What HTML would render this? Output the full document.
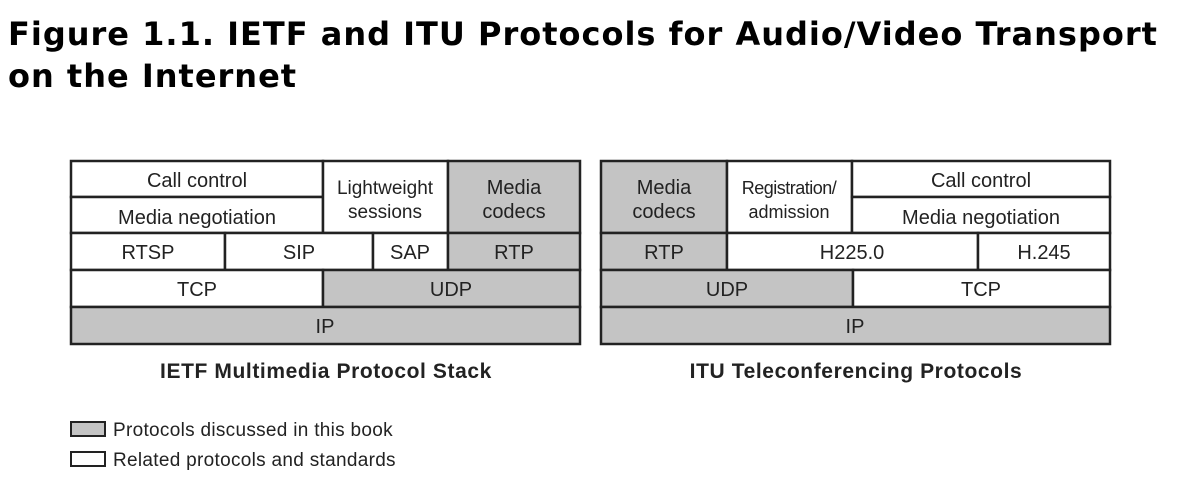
<!DOCTYPE html>
<html><head><style>
body{margin:0;background:#fff;width:1180px;height:479px;overflow:hidden}
.t{position:absolute;left:8px;top:13px;font:bold 32px "DejaVu Sans",sans-serif;letter-spacing:1px;line-height:42px;color:#000;margin:0;white-space:nowrap}
</style></head><body>
<div class="t">Figure 1.1. IETF and ITU Protocols for Audio/Video Transport<br>on the Internet</div>
<svg width="1180" height="479" style="position:absolute;left:0;top:0" font-family="Liberation Sans, sans-serif" font-size="20" text-anchor="middle" fill="#222">
<g stroke="#222" stroke-width="2.5">
<rect x="71" y="161" width="252" height="36" fill="#fff"/>
<rect x="71" y="197" width="252" height="36" fill="#fff"/>
<rect x="323" y="161" width="125" height="72" fill="#fff"/>
<rect x="448" y="161" width="132" height="72" fill="#c4c4c4"/>
<rect x="71" y="233" width="154" height="37" fill="#fff"/>
<rect x="225" y="233" width="148" height="37" fill="#fff"/>
<rect x="373" y="233" width="75" height="37" fill="#fff"/>
<rect x="448" y="233" width="132" height="37" fill="#c4c4c4"/>
<rect x="71" y="270" width="252" height="37" fill="#fff"/>
<rect x="323" y="270" width="257" height="37" fill="#c4c4c4"/>
<rect x="71" y="307" width="509" height="37" fill="#c4c4c4"/>
<rect x="601" y="161" width="126" height="72" fill="#c4c4c4"/>
<rect x="727" y="161" width="125" height="72" fill="#fff"/>
<rect x="852" y="161" width="258" height="36" fill="#fff"/>
<rect x="852" y="197" width="258" height="36" fill="#fff"/>
<rect x="601" y="233" width="126" height="37" fill="#c4c4c4"/>
<rect x="727" y="233" width="251" height="37" fill="#fff"/>
<rect x="978" y="233" width="132" height="37" fill="#fff"/>
<rect x="601" y="270" width="252" height="37" fill="#c4c4c4"/>
<rect x="853" y="270" width="257" height="37" fill="#fff"/>
<rect x="601" y="307" width="509" height="37" fill="#c4c4c4"/>
<rect x="71" y="422" width="34" height="14" fill="#c4c4c4" stroke-width="2"/>
<rect x="71" y="452" width="34" height="14" fill="#fff" stroke-width="2"/>
</g>
<g stroke="none">
<text x="197" y="187">Call control</text>
<text x="197" y="224">Media negotiation</text>
<text x="385" y="194" font-size="19">Lightweight</text>
<text x="385" y="218" font-size="19">sessions</text>
<text x="514" y="194">Media</text>
<text x="514" y="218">codecs</text>
<text x="148" y="259">RTSP</text>
<text x="299" y="259">SIP</text>
<text x="410" y="259">SAP</text>
<text x="514" y="259">RTP</text>
<text x="197" y="296">TCP</text>
<text x="451" y="296">UDP</text>
<text x="325" y="333">IP</text>
<text x="664" y="194">Media</text>
<text x="664" y="218">codecs</text>
<text x="789" y="194" font-size="18" letter-spacing="-0.5">Registration/</text>
<text x="789" y="218" font-size="18">admission</text>
<text x="981" y="187">Call control</text>
<text x="981" y="224">Media negotiation</text>
<text x="664" y="259">RTP</text>
<text x="852" y="259">H225.0</text>
<text x="1044" y="259">H.245</text>
<text x="727" y="296">UDP</text>
<text x="981" y="296">TCP</text>
<text x="855" y="333">IP</text>
<text x="326" y="378" font-weight="bold" font-size="21" letter-spacing="0.6">IETF Multimedia Protocol Stack</text>
<text x="856" y="378" font-weight="bold" font-size="21" letter-spacing="0.6">ITU Teleconferencing Protocols</text>
<text x="113" y="436" text-anchor="start" font-size="19" letter-spacing="0.3">Protocols discussed in this book</text>
<text x="113" y="466" text-anchor="start" font-size="19" letter-spacing="0.3">Related protocols and standards</text>
</g>
</svg>
</body></html>
